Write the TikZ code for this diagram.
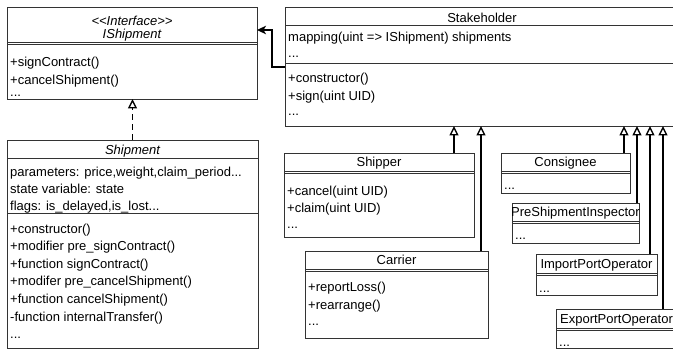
\documentclass[tikz,border=0pt]{standalone}
\usepackage{fontspec}
\setmainfont{Liberation Sans}
\usetikzlibrary{arrows.meta}
\begin{document}
\begin{tikzpicture}[x=1pt,y=-1pt,
  umlbox/.style={draw=black!80, line width=0.9pt, anchor=north west, inner sep=0pt, outer sep=0pt},
  rule/.style={draw=black!80, line width=0.9pt},
  txt/.style={anchor=base west, inner sep=0pt, font=\fontsize{13}{15}\selectfont},
  ttl/.style={anchor=base, inner sep=0pt, font=\fontsize{13}{15}\selectfont},
  inh/.style={line width=1.7pt, -{Triangle[length=9.5pt, width=9pt, fill=white, line width=1.4pt]}},
  real/.style={inh, dash pattern=on 6pt off 4pt},
  assoc/.style={line width=1.7pt, -{Stealth[length=9pt, width=8.5pt, inset=2.5pt]}}
]
\useasboundingbox (0,0) rectangle (673,350);
\fill[white] (0,0) rectangle (673,350);
\clip (0,0) rectangle (673,350);

% ---------- IShipment interface ----------
\node[umlbox, minimum width=250pt, minimum height=92pt] (ishp) at (7,7) {};
\node[ttl, font=\fontsize{13}{15}\selectfont\itshape] (ishp-s) at (132,25.5) {<\kern0pt<Interface>\kern0pt>};
\node[ttl, font=\fontsize{13}{15}\selectfont\itshape] (ishp-n) at (132,39) {IShipment};
\draw[rule] (7,42) -- (257,42);
\draw[rule] (7,44.5) -- (257,44.5);
\node[txt] (ishp-m1) at (10,67) {+signContract()};
\node[txt] (ishp-m2) at (10,84.5) {+cancelShipment()};
\node[txt] (ishp-m3) at (10,97) {...};

% ---------- Shipment ----------
\node[umlbox, minimum width=251pt, minimum height=208pt] (shp) at (7,140) {};
\node[ttl, font=\fontsize{13}{15}\selectfont\itshape] (shp-n) at (132.5,154.5) {Shipment};
\draw[rule] (7,158) -- (258,158);
\node[txt] (shp-a1) at (10,176.5) {parameters: price,weight,claim\_period...};
\node[txt] (shp-a2) at (10,193.5) {state variable: state};
\node[txt] (shp-a3) at (10,210.5) {flags: is\_delayed,is\_lost...};
\draw[rule] (7,213) -- (258,213);
\node[txt] (shp-m1) at (10,233.5) {+constructor()};
\node[txt] (shp-m2) at (10,251) {+modifier pre\_signContract()};
\node[txt] (shp-m3) at (10,268.5) {+function signContract()};
\node[txt] (shp-m4) at (10,286) {+modifer pre\_cancelShipment()};
\node[txt] (shp-m5) at (10,303.5) {+function cancelShipment()};
\node[txt] (shp-m6) at (10,321) {-function internalTransfer()};
\node[txt] (shp-m7) at (10,338) {...};

% ---------- Stakeholder ----------
\node[umlbox, minimum width=394pt, minimum height=119pt] (stk) at (285,7) {};
\node[ttl] (stk-n) at (482,22.5) {Stakeholder};
\draw[rule] (285,25) -- (679,25);
\node[txt] (stk-a1) at (288,41.5) {mapping(uint => IShipment) shipments};
\node[txt] (stk-a2) at (288,58) {...};
\draw[rule] (285,63) -- (679,63);
\node[txt] (stk-m1) at (288,82.5) {+constructor()};
\node[txt] (stk-m2) at (288,100.5) {+sign(uint UID)};
\node[txt] (stk-m3) at (288,116) {...};

% ---------- Shipper ----------
\node[umlbox, minimum width=190pt, minimum height=84pt] (shipper) at (284,153) {};
\node[ttl] (shipper-n) at (379,166.5) {Shipper};
\draw[rule] (284,171) -- (474,171);
\draw[rule] (284,173.5) -- (474,173.5);
\node[txt] (shipper-m1) at (287,195.5) {+cancel(uint UID)};
\node[txt] (shipper-m2) at (287,212.5) {+claim(uint UID)};
\node[txt] (shipper-m3) at (287,229) {...};

% ---------- Consignee ----------
\node[umlbox, minimum width=129pt, minimum height=40pt] (cons) at (501,153) {};
\node[ttl] (cons-n) at (565.5,166.5) {Consignee};
\draw[rule] (501,171) -- (630,171);
\draw[rule] (501,173.5) -- (630,173.5);
\node[txt] (cons-m) at (504,190) {...};

% ---------- PreShipmentInspector ----------
\node[umlbox, minimum width=127pt, minimum height=40pt] (pre) at (512,203) {};
\node[ttl] (pre-n) at (575.5,216.5) {PreShipmentInspector};
\draw[rule] (512,221) -- (639,221);
\draw[rule] (512,223.5) -- (639,223.5);
\node[txt] (pre-m) at (515,240) {...};

% ---------- ImportPortOperator ----------
\node[umlbox, minimum width=121pt, minimum height=41pt] (imp) at (536,254) {};
\node[ttl] (imp-n) at (596.5,268.5) {ImportPortOperator};
\draw[rule] (536,273) -- (657,273);
\draw[rule] (536,275.5) -- (657,275.5);
\node[txt] (imp-m) at (539,292) {...};

% ---------- ExportPortOperator ----------
\node[umlbox, minimum width=121pt, minimum height=39pt] (exp) at (556,309) {};
\node[ttl] (exp-n) at (616.5,323.5) {ExportPortOperator};
\draw[rule] (556,328) -- (677,328);
\draw[rule] (556,330.5) -- (677,330.5);
\node[txt] (exp-m) at (559,346) {...};

% ---------- Carrier ----------
\node[umlbox, minimum width=183pt, minimum height=87pt] (car) at (305,251) {};
\node[ttl] (car-n) at (396.5,264.5) {Carrier};
\draw[rule] (305,269) -- (488,269);
\draw[rule] (305,271.5) -- (488,271.5);
\node[txt] (car-m1) at (308,291.5) {+reportLoss()};
\node[txt] (car-m2) at (308,309.5) {+rearrange()};
\node[txt] (car-m3) at (308,326) {...};

% ---------- connectors ----------
% realization: Shipment implements IShipment
\draw[real] (shp.north) -- (shp.north |- ishp.south);

% association: Stakeholder holds IShipment references
\coordinate (assocStart) at ([yshift=-60pt]stk.north west);
\coordinate (assocEnd) at ([yshift=-23pt]ishp.north east);
\draw[assoc] (assocStart) -- ++(-13,0) |- (assocEnd);

% generalizations towards Stakeholder
\coordinate (gShipper) at ([xshift=170pt]shipper.north west);
\coordinate (gCarrier) at ([xshift=176pt]car.north west);
\coordinate (gCons) at ([xshift=123pt]cons.north west);
\coordinate (gPre) at ([xshift=125pt]pre.north west);
\coordinate (gImp) at ([xshift=114pt]imp.north west);
\coordinate (gExp) at ([xshift=107pt]exp.north west);
\foreach \g in {gShipper,gCarrier,gCons,gPre,gImp,gExp}
  \draw[inh] (\g) -- (\g |- stk.south);
\end{tikzpicture}
\end{document}
